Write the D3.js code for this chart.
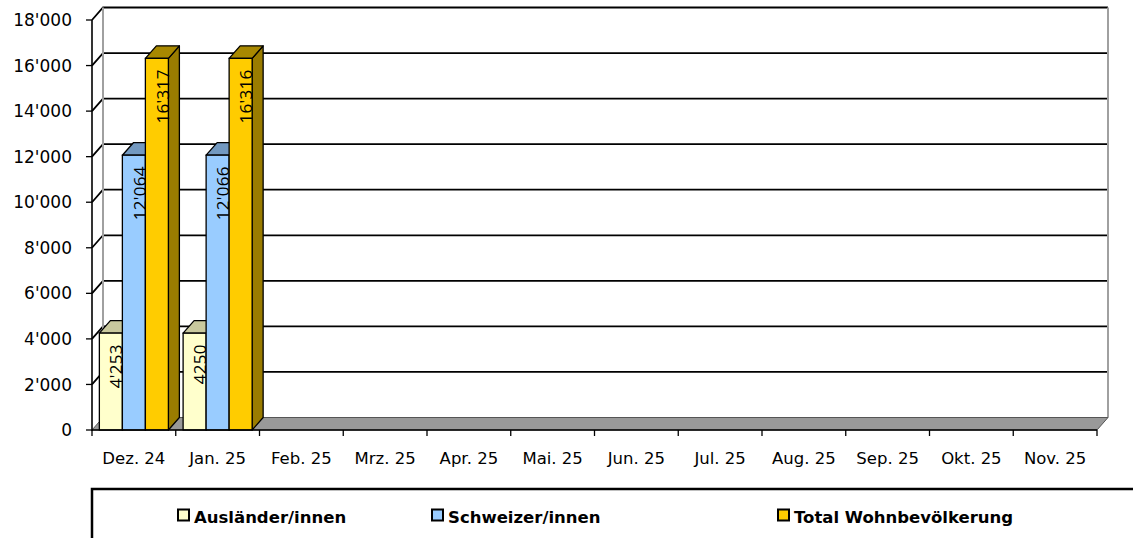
<!DOCTYPE html>
<html>
<head>
<meta charset="utf-8">
<script src="https://cdn.jsdelivr.net/npm/d3@7"></script>
<style>
  body { margin: 0; background: #fff; }
  svg { display: block; font-family: "DejaVu Sans", sans-serif; }
</style>
</head>
<body>
<svg id="chart" width="1133" height="538"></svg>
<script>
// Daten
const monate = ['Dez. 24', 'Jan. 25', 'Feb. 25', 'Mrz. 25', 'Apr. 25', 'Mai. 25', 'Jun. 25', 'Jul. 25', 'Aug. 25', 'Sep. 25', 'Okt. 25', 'Nov. 25'];
const auslaender = [4253, 4250];
const schweizer = [12064, 12066];
const total = [16317, 16316];
const labelAuslaender = ["4'253", "4250"];
const labelSchweizer = ["12'064", "12'066"];
const labelTotal = ["16'317", "16'316"];
const serien = ['Ausländer/innen', 'Schweizer/innen', 'Total Wohnbevölkerung'];
const yTicks = [0, 2000, 4000, 6000, 8000, 10000, 12000, 14000, 16000, 18000];

// Farben: Front, Oberseite, Seite
const farben = [
  { front: '#FFFFCC', top: '#C9C99E', side: '#B5B58C' },
  { front: '#99CCFF', top: '#7399C0', side: '#5F86AD' },
  { front: '#FFCC00', top: '#A88800', side: '#9A7C00' }
];

const svg = d3.select('#chart');

// Geometrie
const x0 = 92, x1 = 1097, yBase = 430, yTop = 20;
const dx = 11, dy = 12.5;   // 3D-Tiefe

const fmt = d3.formatLocale({ decimal: '.', thousands: "'", grouping: [3], currency: ['', ''] }).format(',d');

const xScale = d3.scaleBand().domain(monate).range([x0, x1]).paddingInner(0).paddingOuter(0);
const sScale = d3.scaleBand().domain(serien).range([0, xScale.bandwidth()]).paddingInner(0).paddingOuter(0.32);
const yScale = d3.scaleLinear().domain([0, 18000]).range([yBase, yTop]);

// Linke Wand (schmal)
svg.append('polygon')
  .attr('points', [[x0, yBase], [x0 + dx, yBase - dy], [x0 + dx, yTop - dy], [x0, yTop]].join(' '))
  .attr('fill', '#fff');

// Gitterlinien
const grid = svg.append('g');
yTicks.forEach((t) => {
  const y = yScale(t);
  if (t > 0) {
    grid.append('polyline')
      .attr('points', [[x0, y], [x0 + dx, y - dy], [x1 + dx, y - dy]].join(' '))
      .attr('fill', 'none')
      .attr('stroke', '#000')
      .attr('stroke-width', 1.8);
  }
});

// Rückwand-Kanten
svg.append('line')
  .attr('x1', x0 + dx).attr('x2', x0 + dx)
  .attr('y1', yTop - dy).attr('y2', yBase - dy)
  .attr('stroke', '#a0a0a0').attr('stroke-width', 2);
svg.append('line')
  .attr('x1', x1 + dx).attr('x2', x1 + dx)
  .attr('y1', yTop - dy).attr('y2', yBase - dy)
  .attr('stroke', '#a0a0a0').attr('stroke-width', 2);

// Boden
svg.append('polygon')
  .attr('points', [[x0, yBase], [x0 + dx, yBase - dy], [x1 + dx, yBase - dy], [x1, yBase]].join(' '))
  .attr('fill', '#999999')
  .attr('stroke', '#555')
  .attr('stroke-width', 1);

// Balken
const datenReihen = [auslaender, schweizer, total];
const labelReihen = [labelAuslaender, labelSchweizer, labelTotal];
const balken = svg.append('g');
monate.forEach((m, i) => {
  serien.forEach((s, k) => {
    const v = datenReihen[k][i];
    if (v == null) return;
    const x = xScale(m) + sScale(s);
    const w = sScale.bandwidth();
    const y = yScale(v);
    const f = farben[k];
    const g = balken.append('g');
    g.append('polygon')
      .attr('points', [[x + w, y], [x + w + dx, y - dy], [x + w + dx, yBase - dy], [x + w, yBase]].join(' '))
      .attr('fill', f.side).attr('stroke', '#000').attr('stroke-width', 1.3).attr('stroke-linejoin', 'round');
    g.append('polygon')
      .attr('points', [[x, y], [x + dx, y - dy], [x + w + dx, y - dy], [x + w, y]].join(' '))
      .attr('fill', f.top).attr('stroke', '#000').attr('stroke-width', 1.3).attr('stroke-linejoin', 'round');
    g.append('rect')
      .attr('x', x).attr('y', y)
      .attr('width', w).attr('height', yBase - y)
      .attr('fill', f.front).attr('stroke', '#000').attr('stroke-width', 1.3);
    // Beschriftung
    const cx = x + w / 2 + dx / 2;
    const ly = y + 11;
    g.append('text')
      .attr('transform', 'translate(' + cx + ',' + ly + ') rotate(-90)')
      .attr('text-anchor', 'end')
      .attr('dy', '0.36em')
      .attr('font-family', '"Open Sans", sans-serif')
      .attr('font-size', 17)
      .attr('letter-spacing', 0.3)
      .attr('fill', '#000')
      .text(labelReihen[k][i]);
  });
});

// Vordere Achsen
svg.append('line')
  .attr('x1', x0).attr('x2', x0).attr('y1', yTop).attr('y2', yBase + 1)
  .attr('stroke', '#000').attr('stroke-width', 1.6);
svg.append('line')
  .attr('x1', x0).attr('x2', x1).attr('y1', yBase).attr('y2', yBase)
  .attr('stroke', '#000').attr('stroke-width', 1.6);

// Y-Achse
const yAxis = svg.append('g');
yTicks.forEach((t) => {
  const y = yScale(t);
  yAxis.append('line')
    .attr('x1', x0 - 6).attr('x2', x0).attr('y1', y).attr('y2', y)
    .attr('stroke', '#000').attr('stroke-width', 1.3);
  yAxis.append('text')
    .attr('x', 72).attr('y', y)
    .attr('dy', '0.36em')
    .attr('text-anchor', 'end')
    .attr('font-size', 17)
    .text(fmt(t));
});

// X-Achse
const xAxis = svg.append('g');
monate.concat([null]).forEach((m, i) => {
  const xb = m ? xScale(m) : x1;
  xAxis.append('line')
    .attr('x1', xb).attr('x2', xb).attr('y1', yBase).attr('y2', yBase + 6)
    .attr('stroke', '#000').attr('stroke-width', 1.3);
});
monate.forEach((m) => {
  xAxis.append('text')
    .attr('x', xScale(m) + xScale.bandwidth() / 2)
    .attr('y', 464)
    .attr('text-anchor', 'middle')
    .attr('font-size', 16.5)
    .text(m);
});

// Legende
svg.append('rect')
  .attr('x', 92).attr('y', 489)
  .attr('width', 1100).attr('height', 100)
  .attr('fill', '#fff').attr('stroke', '#000').attr('stroke-width', 2.5);

const legX = [178, 432, 778];
serien.forEach((s, k) => {
  svg.append('rect')
    .attr('x', legX[k]).attr('y', 509.5)
    .attr('width', 11).attr('height', 11)
    .attr('fill', farben[k].front)
    .attr('stroke', '#000').attr('stroke-width', 2);
  svg.append('text')
    .attr('x', legX[k] + 16).attr('y', 523)
    .attr('font-size', 16.5)
    .attr('font-weight', 'bold')
    .text(s);
});
</script>
</body>
</html>
